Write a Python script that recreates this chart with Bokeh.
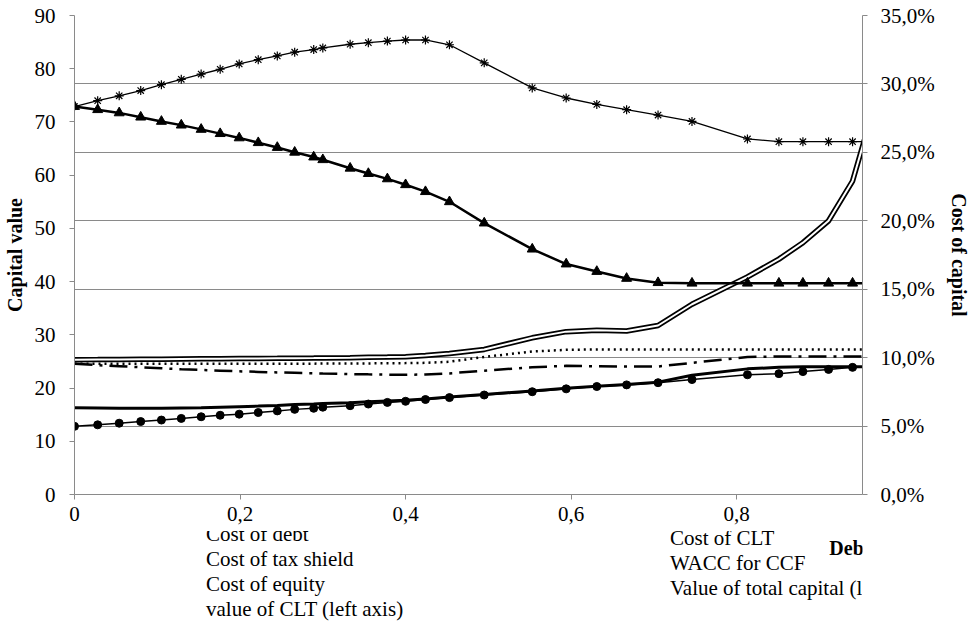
from bokeh.plotting import figure
from bokeh.layouts import column
from bokeh.models import (Range1d, LinearAxis, FixedTicker, Grid, Legend, LegendItem,
                          Label, ColumnDataSource)
from bokeh.embed import file_html
from bokeh.resources import INLINE

# ---------------- data ----------------
debt_to_capital = [0, 0.028, 0.054, 0.080, 0.105, 0.129, 0.153, 0.176, 0.199, 0.222, 0.245,
                   0.266, 0.289, 0.300, 0.333, 0.355, 0.378, 0.400, 0.424, 0.453, 0.495, 0.553,
                   0.594, 0.631, 0.667, 0.705, 0.746, 0.813, 0.851, 0.880, 0.911, 0.940, 0.960]

cost_of_debt = [4.98, 5.09, 5.21, 5.33, 5.44, 5.56, 5.68, 5.79, 5.87, 5.99, 6.11, 6.22, 6.30,
                6.38, 6.49, 6.61, 6.73, 6.81, 6.94, 7.08, 7.27, 7.51, 7.72, 7.89, 8.01, 8.17,
                8.40, 8.75, 8.83, 8.98, 9.14, 9.29, 9.36]
cost_of_tax_shield = [6.34, 6.32, 6.30, 6.30, 6.30, 6.32, 6.34, 6.38, 6.42, 6.46, 6.51, 6.57,
                      6.61, 6.65, 6.71, 6.77, 6.83, 6.88, 6.98, 7.12, 7.31, 7.56, 7.76, 7.91,
                      8.03, 8.21, 8.71, 9.18, 9.29, 9.33, 9.33, 9.33, 9.33]
cost_of_equity = [9.85, 9.86, 9.87, 9.88, 9.89, 9.90, 9.91, 9.92, 9.93, 9.94, 9.95, 9.96, 9.97,
                  9.98, 10.00, 10.02, 10.04, 10.07, 10.15, 10.30, 10.60, 11.45, 11.90, 12.00,
                  11.95, 12.35, 13.90, 15.90, 17.20, 18.40, 20.00, 22.90, 27.10]
cost_of_clt = [9.55, 9.55, 9.55, 9.55, 9.55, 9.55, 9.55, 9.55, 9.55, 9.55, 9.55, 9.56, 9.56,
               9.57, 9.57, 9.58, 9.59, 9.60, 9.62, 9.70, 10.05, 10.45, 10.57, 10.60, 10.60,
               10.60, 10.60, 10.60, 10.60, 10.60, 10.60, 10.60, 10.60]
wacc_ccf = [9.55, 9.45, 9.38, 9.30, 9.22, 9.15, 9.10, 9.05, 9.00, 8.96, 8.92, 8.89, 8.86, 8.84,
            8.80, 8.78, 8.76, 8.75, 8.77, 8.85, 9.05, 9.30, 9.40, 9.37, 9.35, 9.35, 9.62,
            10.05, 10.08, 10.08, 10.08, 10.08, 10.08]
value_of_clt = [72.9, 72.3, 71.7, 70.9, 70.1, 69.4, 68.6, 67.8, 67.0, 66.1, 65.2, 64.3, 63.4,
                62.9, 61.3, 60.3, 59.3, 58.2, 56.9, 55.0, 51.0, 46.1, 43.3, 41.9, 40.6, 39.8,
                39.7, 39.7, 39.7, 39.7, 39.7, 39.7, 39.7]
value_of_total_capital = [72.9, 74.0, 74.9, 75.9, 77.0, 78.0, 79.0, 79.9, 80.9, 81.7, 82.4,
                          83.1, 83.6, 83.9, 84.6, 84.9, 85.2, 85.4, 85.4, 84.5, 81.1, 76.4,
                          74.5, 73.3, 72.3, 71.3, 70.1, 66.8, 66.3, 66.3, 66.3, 66.3, 66.3]

x_ticks = [0, 0.2, 0.4, 0.6, 0.8]
x_tick_labels = ["0", "0,2", "0,4", "0,6", "0,8"]
left_ticks = [0, 10, 20, 30, 40, 50, 60, 70, 80, 90]
right_ticks = [0, 5, 10, 15, 20, 25, 30, 35]
right_tick_labels = ["0,0%", "5,0%", "10,0%", "15,0%", "20,0%", "25,0%", "30,0%", "35,0%"]

# ---------------- styles ----------------
FONT = "Liberation Serif"
AXIS_GRAY = "#8a8a8a"
STYLES = {
    "debt_line": dict(line_color="black", line_width=1.5),
    "debt_mark": dict(marker="circle", size=8, fill_color="black", line_color="black"),
    "tax": dict(line_color="black", line_width=3),
    "eq_outer": dict(line_color="black", line_width=5.5),
    "eq_inner": dict(line_color="white", line_width=2),
    "clt": dict(line_color="black", line_width=2.5, line_dash="2 4"),
    "wacc": dict(line_color="black", line_width=2.5, line_dash="18 7 3 7"),
    "vclt_line": dict(line_color="black", line_width=2.5),
    "vclt_mark": dict(marker="triangle", size=10, fill_color="black", line_color="black"),
    "vtot_line": dict(line_color="black", line_width=1.3),
    "vtot_mark": dict(marker="asterisk", size=9, line_color="black", line_width=1.2),
}

src = ColumnDataSource(dict(x=debt_to_capital, debt=cost_of_debt, tax=cost_of_tax_shield,
                            eq=cost_of_equity, clt=cost_of_clt, wacc=wacc_ccf,
                            vclt=value_of_clt, vtot=value_of_total_capital))

# ---------------- main chart ----------------
p = figure(width=973, height=531, output_backend="svg", toolbar_location=None,
           x_range=Range1d(0, 0.952), y_range=Range1d(0, 90),
           min_border_left=72, min_border_right=111, min_border_top=15, min_border_bottom=37)
p.extra_y_ranges = {"pct": Range1d(0, 35)}
p.outline_line_color = None
p.background_fill_color = "white"
p.xgrid.visible = False
p.ygrid.visible = False


def style_axis(ax):
    ax.axis_line_color = AXIS_GRAY
    ax.major_tick_line_color = AXIS_GRAY
    ax.minor_tick_line_color = None
    ax.major_tick_in = 0
    ax.major_tick_out = 5
    ax.major_label_text_font = FONT
    ax.major_label_text_font_size = "21px"
    ax.major_label_text_color = "black"
    ax.axis_label_text_font = FONT
    ax.axis_label_text_font_size = "20px"
    ax.axis_label_text_font_style = "bold"
    ax.axis_label_text_color = "black"


xa = p.xaxis[0]
style_axis(xa)
xa.ticker = FixedTicker(ticks=x_ticks)
xa.major_label_overrides = dict(zip(x_ticks, x_tick_labels))
xa.major_label_standoff = 7

ya = p.yaxis[0]
style_axis(ya)
ya.ticker = FixedTicker(ticks=left_ticks)
ya.major_label_standoff = 14
ya.axis_label = "Capital value"
ya.axis_label_standoff = 6

ra = LinearAxis(y_range_name="pct", ticker=FixedTicker(ticks=right_ticks))
style_axis(ra)
ra.major_label_overrides = dict(zip(right_ticks, right_tick_labels))
ra.major_label_standoff = 13
ra.axis_label = "Cost of capital"
ra.axis_label_standoff = 10
p.add_layout(ra, "right")

grid = Grid(dimension=1, ticker=FixedTicker(ticks=right_ticks), y_range_name="pct",
            grid_line_color=AXIS_GRAY, grid_line_width=1)
p.add_layout(grid)

p.line("x", "debt", source=src, y_range_name="pct", **STYLES["debt_line"])
p.scatter("x", "debt", source=src, y_range_name="pct", **STYLES["debt_mark"])
p.line("x", "tax", source=src, y_range_name="pct", **STYLES["tax"])
p.line("x", "eq", source=src, y_range_name="pct", **STYLES["eq_outer"])
p.line("x", "eq", source=src, y_range_name="pct", **STYLES["eq_inner"])
p.line("x", "clt", source=src, y_range_name="pct", **STYLES["clt"])
p.line("x", "wacc", source=src, y_range_name="pct", **STYLES["wacc"])
p.line("x", "vclt", source=src, **STYLES["vclt_line"])
p.scatter("x", "vclt", source=src, **STYLES["vclt_mark"])
p.line("x", "vtot", source=src, **STYLES["vtot_line"])
p.scatter("x", "vtot", source=src, **STYLES["vtot_mark"])

# ---------------- legend strip ----------------
q = figure(width=973, height=92, output_backend="svg", toolbar_location=None,
           x_range=Range1d(0, 1), y_range=Range1d(0, 1), x_axis_type=None, y_axis_type=None,
           min_border_left=0, min_border_right=0, min_border_top=0, min_border_bottom=0)
q.outline_line_color = None
q.xgrid.visible = False
q.ygrid.visible = False

empty = ColumnDataSource(dict(x=[], y=[]))


def proto(kind, style):
    if kind == "line":
        return q.line("x", "y", source=empty, **style)
    return q.scatter("x", "y", source=empty, **style)


def make_legend(items, loc):
    lg = Legend(items=items, location=loc, orientation="vertical")
    lg.label_text_font = FONT
    lg.label_text_font_size = "21px"
    lg.label_text_color = "black"
    lg.glyph_width = 35
    lg.glyph_height = 20
    lg.label_height = 21
    lg.label_standoff = 4
    lg.spacing = -4
    lg.padding = 0
    lg.margin = 0
    lg.border_line_color = None
    lg.background_fill_alpha = 0
    return lg


left_leg = make_legend([
    LegendItem(label="Cost of debt", renderers=[proto("line", STYLES["debt_line"]),
                                                proto("scatter", STYLES["debt_mark"])]),
    LegendItem(label="Cost of tax shield", renderers=[proto("line", STYLES["tax"])]),
    LegendItem(label="Cost of equity", renderers=[proto("line", STYLES["eq_outer"]),
                                                  proto("line", STYLES["eq_inner"])]),
    LegendItem(label="value of CLT (left axis)", renderers=[proto("line", STYLES["vclt_line"]),
                                                            proto("scatter", STYLES["vclt_mark"])]),
], (93, 1))
right_leg = make_legend([
    LegendItem(label="Cost of CLT", renderers=[proto("line", STYLES["clt"])]),
    LegendItem(label="WACC for CCF", renderers=[proto("line", STYLES["wacc"])]),
    LegendItem(label="Value of total capital (left axis)",
               renderers=[proto("line", STYLES["vtot_line"]), proto("scatter", STYLES["vtot_mark"])]),
], (557, 22))
q.add_layout(left_leg)
q.add_layout(right_leg)

q.add_layout(Label(x=963, y=76, x_units="screen", y_units="screen",
                   text="Debt Face Value/Capital", text_align="right", text_baseline="middle",
                   text_font=FONT, text_font_style="bold", text_font_size="20px",
                   text_color="black"))

layout = column(p, q, spacing=0)
open("out.html", "w").write(file_html(layout, INLINE))
